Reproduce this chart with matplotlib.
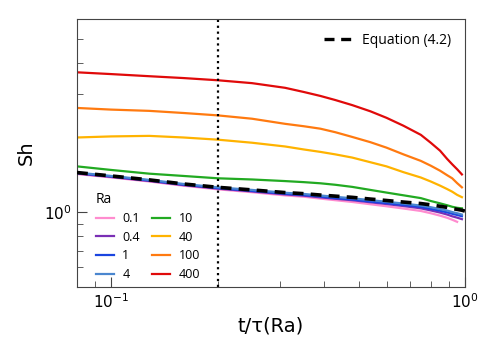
import matplotlib
matplotlib.use("Agg")
import matplotlib.pyplot as plt
from matplotlib.lines import Line2D

nan = float("nan")

# time grid, t/tau(Ra)
t = [0.08, 0.1, 0.128, 0.16, 0.2, 0.25, 0.31, 0.35, 0.39, 0.43, 0.48, 0.54, 0.6, 0.67,
     0.75, 0.8, 0.85, 0.89, 0.92, 0.95, 0.98]

ra_labels = ["0.1", "0.4", "1", "4", "10", "40", "100", "400"]
sh_01 = [1.425, 1.381, 1.330, 1.279, 1.237, 1.204, 1.169, 1.155, 1.135, 1.118, 1.100, 1.077, 1.057, 1.035,
         1.012, 0.991, 0.969, 0.950, 0.933, 0.915, nan]
sh_04 = [1.432, 1.387, 1.336, 1.286, 1.245, 1.213, 1.180, 1.166, 1.148, 1.133, 1.118, 1.097, 1.079, 1.059,
         1.037, 1.017, 0.997, 0.979, 0.963, 0.951, 0.938]
sh_1 = [1.438, 1.394, 1.343, 1.292, 1.251, 1.219, 1.187, 1.173, 1.156, 1.140, 1.125, 1.104, 1.088, 1.069,
        1.050, 1.032, 1.014, 0.999, 0.986, 0.975, 0.964]
sh_4 = [1.445, 1.40, 1.35, 1.30, 1.26, 1.23, 1.198, 1.185, 1.168, 1.154, 1.138, 1.119, 1.102, 1.084,
        1.064, 1.048, 1.030, 1.016, 1.002, 0.991, 0.979]
sh_10 = [1.53, 1.48, 1.43, 1.40, 1.37, 1.355, 1.335, 1.322, 1.308, 1.29, 1.265, 1.23, 1.20, 1.17,
         1.14, 1.11, 1.086, 1.067, 1.052, 1.042, 1.037]
sh_40 = [2.0, 2.02, 2.03, 2.0, 1.96, 1.905, 1.84, 1.79, 1.75, 1.71, 1.66, 1.59, 1.53, 1.45,
         1.38, 1.33, 1.28, 1.24, 1.21, 1.175, 1.15]
sh_100 = [2.63, 2.59, 2.56, 2.51, 2.455, 2.38, 2.27, 2.22, 2.17, 2.10, 2.01, 1.915, 1.82, 1.71,
          1.61, 1.54, 1.47, 1.41, 1.37, 1.31, 1.26]
sh_400 = [3.66, 3.60, 3.53, 3.47, 3.40, 3.31, 3.17, 3.05, 2.94, 2.83, 2.70, 2.55, 2.40, 2.23,
          2.05, 1.905, 1.77, 1.64, 1.56, 1.49, 1.42]
colors = ["#ff8ccf", "#7a2fb5", "#1a45e0", "#4a86cf", "#22aa22", "#ffb300", "#ff7a10", "#e00a0a"]

# Equation (4.2)
t_eq = [0.08, 0.1, 0.128, 0.16, 0.2, 0.25, 0.31, 0.35, 0.39, 0.43, 0.48, 0.54, 0.6, 0.67,
        0.75, 0.8, 0.85, 0.89, 0.92, 0.95, 0.98, 1.0]
sh_eq = [1.445, 1.40, 1.35, 1.30, 1.26, 1.23, 1.20, 1.188, 1.173, 1.161, 1.148, 1.13, 1.115, 1.099,
         1.084, 1.071, 1.057, 1.046, 1.035, 1.027, 1.019, 1.01]

fig = plt.figure(figsize=(4.98, 3.53), dpi=100)
ax = fig.add_axes([77 / 498, 1 - 287 / 353, (465 - 77) / 498, (287 - 19) / 353])

series = [sh_01, sh_04, sh_1, sh_4, sh_10, sh_40, sh_100, sh_400]
handles = []
for sh, c, lab in zip(series, colors, ra_labels):
    h, = ax.plot(t, sh, color=c, lw=1.6, label=lab)
    handles.append(h)

eq, = ax.plot(t_eq, sh_eq, color="black", lw=2.6, ls=(0, (3, 2)), zorder=5)
ax.axvline(0.2, color="black", ls=":", lw=1.6)

ax.set_xscale("log")
ax.set_yscale("log")
ax.set_xlim(0.08, 1.0)
ax.set_ylim(0.5, 6)

ax.tick_params(which="both", direction="in", top=False, right=False, labelsize=11, color="#444444")
ax.tick_params(which="major", length=7)
ax.tick_params(which="minor", length=4)
ax.yaxis.set_minor_formatter(plt.NullFormatter())
ax.xaxis.set_minor_formatter(plt.NullFormatter())
for s in ax.spines.values():
    s.set_color("#444444")

ax.set_xlabel("t/τ(Ra)", fontsize=14)
ax.set_ylabel("Sh", fontsize=14, labelpad=6)

# 2 columns read 0.1,0.4,1,4 | 10,40,100,400
leg1 = ax.legend(handles=handles, ncol=2, loc="lower left", bbox_to_anchor=(0.02, -0.02),
                 frameon=False, title="Ra", handlelength=1.4, handletextpad=0.7,
                 columnspacing=1.0, labelspacing=0.45,
                 prop={"family": "Open Sans", "size": 9},
                 title_fontproperties={"family": "Open Sans", "size": 10})
leg1._legend_box.align = "left"
ax.add_artist(leg1)
ax.legend([Line2D([], [], color="black", lw=2.4, ls=(0, (3, 2)))], ["Equation (4.2)"],
          loc="upper right", frameon=False, handlelength=2.2, handletextpad=0.5,
          prop={"family": "Open Sans", "size": 10}, borderaxespad=0.6)

fig.savefig("out.png", dpi=100)
